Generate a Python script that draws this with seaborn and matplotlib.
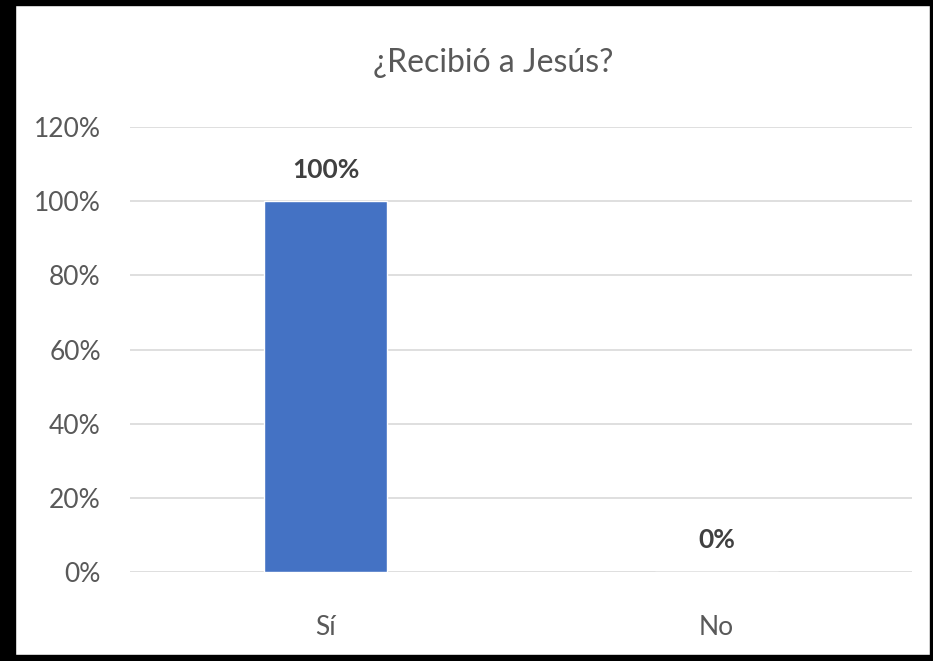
import matplotlib
matplotlib.use("Agg")
import matplotlib.pyplot as plt
import matplotlib.patches as mpatches
import seaborn as sns
import pandas as pd

# data
categories = ["Sí", "No"]
values = [100, 0]
yticks = [0, 20, 40, 60, 80, 100, 120]
title = "¿Recibió a Jesús?"

df = pd.DataFrame({"respuesta": categories, "pct": values})

sns.set_style("white")
plt.rcParams["font.family"] = ["Lato", "DejaVu Sans"]

fig = plt.figure(figsize=(9.33, 6.61), dpi=100)
ax = fig.add_axes([130 / 933, 1 - 572 / 661, 782 / 933, 445 / 661])

sns.barplot(data=df, x="respuesta", y="pct", color="#4472C4", width=0.315,
            saturation=1, ax=ax, zorder=3)

ax.set_xlim(-0.5, 1.5)
ax.set_ylim(0, 120)
ax.set_yticks(yticks)
ax.set_yticklabels([f"{t}%" for t in yticks])
ax.grid(axis="y", color="#D9D9D9", linewidth=1.2, zorder=0)
ax.set_axisbelow(True)
for s in ax.spines.values():
    s.set_visible(False)
ax.tick_params(axis="both", length=0, colors="#595959", labelsize=19)
ax.tick_params(axis="y", pad=21)
ax.tick_params(axis="x", pad=31)
ax.set_xlabel("")
ax.set_ylabel("")

for i, v in enumerate(values):
    ax.annotate(f"{v}%", (i, v), xytext=(0, 17), textcoords="offset points",
                ha="center", va="baseline", fontsize=19, fontweight="bold",
                color="#404040")

fig.text(493 / 933, 1 - 63 / 661, title, ha="center", va="center", fontsize=23,
         color="#595959")

# black frame around the picture
W, H = 933, 661
for x0, y0, w, h in [(0, 0, 15, H), (0, H - 5, W, 5), (W - 3, 0, 3, H), (0, 0, W, 6)]:
    fig.patches.append(mpatches.Rectangle((x0 / W, y0 / H), w / W, h / H,
                                          transform=fig.transFigure,
                                          color="black", zorder=10))

fig.savefig("out.png", dpi=100)
